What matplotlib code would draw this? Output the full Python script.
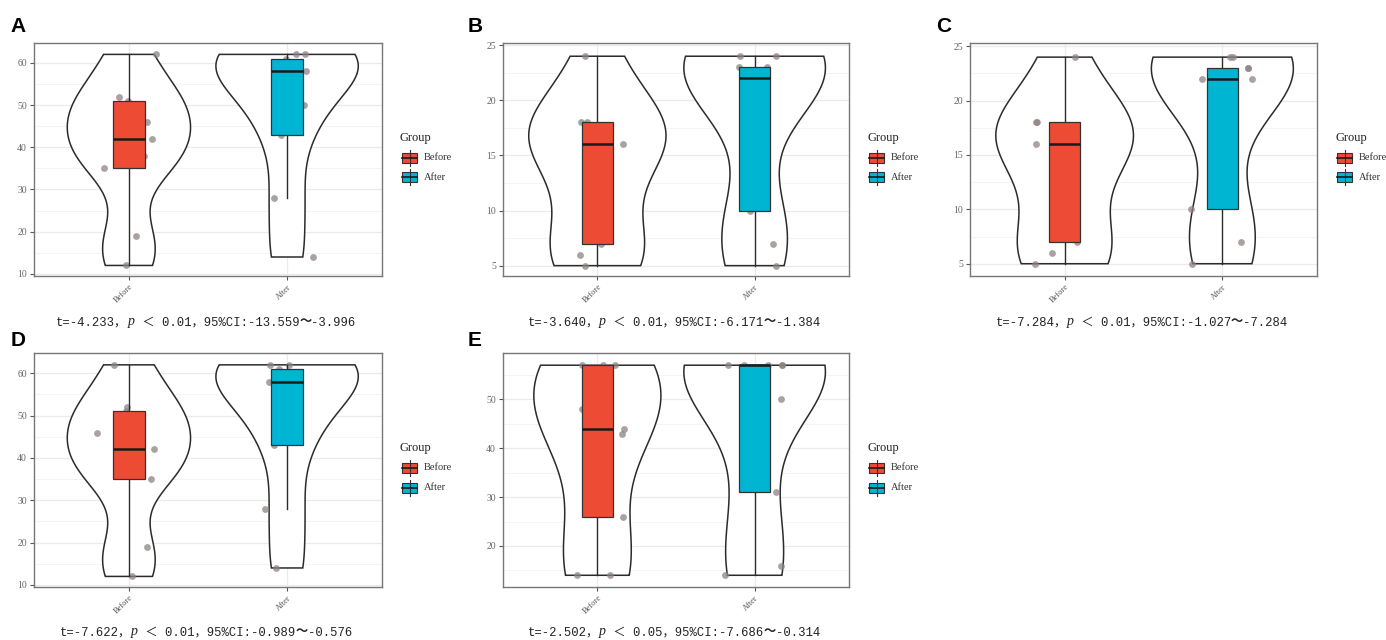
import numpy as np
import matplotlib
matplotlib.use('Agg')
import matplotlib.pyplot as plt
from matplotlib.patches import Rectangle, Polygon
from matplotlib.lines import Line2D
from matplotlib.offsetbox import TextArea, HPacker, AnchoredOffsetbox

W, H = 1386, 640

groups = ['Before', 'After']
colors = ['#EE4B35', '#00B5D1']

a_before = [12, 19, 35, 38, 42, 46, 51, 52, 62]
a_after = [14, 28, 43, 50, 58, 60, 61, 62, 62]
b_before = [5, 6, 7, 13, 16, 17, 18, 18, 24]
b_after = [5, 7, 10, 22, 22, 23, 23, 24, 24]
c_before = [5, 6, 7, 13, 16, 17, 18, 18, 24]
c_after = [5, 7, 10, 22, 22, 23, 23, 24, 24]
d_before = [12, 19, 35, 38, 42, 46, 51, 52, 62]
d_after = [14, 28, 43, 50, 58, 60, 61, 62, 62]
e_before = [14, 14, 26, 43, 44, 48, 57, 57, 57]
e_after = [14, 16, 31, 50, 57, 57, 57, 57, 57]

# horizontal jitter of each point (category units)
a_jit = [[-0.017, 0.046, -0.156, 0.093, 0.148, 0.116, -0.006, -0.063, 0.173],
         [0.165, -0.080, -0.036, 0.108, 0.122, 0.020, -0.005, 0.059, 0.112]]
b_jit = [[-0.078, -0.110, 0.020, -0.040, 0.165, 0.040, -0.105, -0.063, -0.078],
         [0.135, 0.118, -0.030, 0.034, -0.050, -0.097, 0.076, -0.093, 0.135]]
c_jit = [[-0.186, -0.082, 0.080, 0.036, -0.179, -0.050, -0.184, -0.173, 0.068],
         [-0.190, 0.120, -0.196, -0.131, 0.188, 0.165, 0.163, 0.050, 0.065]]
d_jit = [[0.021, 0.116, 0.137, -0.060, 0.160, -0.200, -0.021, -0.011, -0.097],
         [-0.068, -0.141, -0.084, 0.017, -0.114, -0.025, -0.051, -0.105, 0.013]]
e_jit = [[-0.131, 0.080, 0.165, 0.156, 0.169, -0.099, -0.099, 0.038, 0.112],
         [-0.188, 0.167, 0.139, 0.165, -0.171, -0.065, 0.086, 0.171, 0.171]]

a_ticks = [10, 20, 30, 40, 50, 60]
bc_ticks = [5, 10, 15, 20, 25]
e_ticks = [20, 30, 40, 50]

# y limits as shown (ggplot expands the jittered range by 5%)
a_ylim = (9.5, 64.7)
b_ylim = (4.06, 25.2)
c_ylim = (3.87, 25.3)
d_ylim = (9.5, 64.8)
e_ylim = (11.6, 59.5)

captions = [
    ('t=-4.233，', ' ＜ 0.01，95%CI:-13.559', '-3.996'),
    ('t=-3.640，', ' ＜ 0.01，95%CI:-6.171', '-1.384'),
    ('t=-7.284，', ' ＜ 0.01，95%CI:-1.027', '-7.284'),
    ('t=-7.622，', ' ＜ 0.01，95%CI:-0.989', '-0.576'),
    ('t=-2.502，', ' ＜ 0.05，95%CI:-7.686', '-0.314'),
]

SERIF = ['Liberation Serif', 'DejaVu Serif']
CAPFONT = ['Liberation Mono', 'Noto Sans CJK SC', 'DejaVu Sans']


def kde(vals, grid):
    v = np.asarray(vals, float)
    n = len(v)
    q75, q25 = np.percentile(v, [75, 25])
    bw = 0.9 * min(v.std(ddof=1), (q75 - q25) / 1.34) * n ** -0.2
    z = (grid[:, None] - v[None, :]) / bw
    return np.exp(-0.5 * z ** 2).sum(1) / (n * bw * np.sqrt(2 * np.pi))


def box_stats(vals):
    v = np.asarray(vals, float)
    q1, med, q3 = np.percentile(v, [25, 50, 75])
    iqr = q3 - q1
    lo = v[v >= q1 - 1.5 * iqr].min()
    hi = v[v <= q3 + 1.5 * iqr].max()
    return q1, med, q3, lo, hi


def fx(px):
    return px / W


def fy(py):
    return 1 - py / H


fig = plt.figure(figsize=(W / 100, H / 100), dpi=100)
fig.patch.set_facecolor('white')

# panel boxes in pixels: left, top, right, bottom ; letter position
panels = [
    ('A', a_before, a_after, a_jit, a_ticks, a_ylim, (34, 43, 382, 276), (10, 26.5)),
    ('B', b_before, b_after, b_jit, bc_ticks, b_ylim, (503, 43, 849, 276), (468, 26.5)),
    ('C', c_before, c_after, c_jit, bc_ticks, c_ylim, (970, 43, 1317, 276), (936, 26.5)),
    ('D', d_before, d_after, d_jit, a_ticks, d_ylim, (34, 353, 382, 587), (11, 340)),
    ('E', e_before, e_after, e_jit, e_ticks, e_ylim, (503, 353, 849, 587), (468, 340)),
]

for k, (letter, before, after, jit, ticks, ylim, (l, t, r, b), (lx0, ly0)) in enumerate(panels):
    ax = fig.add_axes([fx(l), fy(b), fx(r - l), (b - t) / H])
    data = [before, after]

    dens = []
    for vals in data:
        g = np.linspace(min(vals), max(vals), 512)
        dens.append((g, kde(vals, g)))
    scale = 0.45 / max(d.max() for _, d in dens)

    for i, vals in enumerate(data):
        pos = i + 1
        g, d = dens[i]
        w = d * scale
        xs = np.concatenate([pos - w, (pos + w)[::-1]])
        ys = np.concatenate([g, g[::-1]])
        ax.add_patch(Polygon(np.column_stack([xs, ys]), closed=True, fc='white',
                             ec='#2b2b2b', lw=1.1, zorder=2))
        ax.scatter(pos + np.array(jit[i]), vals, s=24, color='#8e8282', alpha=0.75,
                   lw=0, zorder=3)
        q1, med, q3, wlo, whi = box_stats(vals)
        ax.plot([pos, pos], [q3, whi], color='#2b2b2b', lw=1.0, zorder=4)
        ax.plot([pos, pos], [wlo, q1], color='#2b2b2b', lw=1.0, zorder=4)
        ax.add_patch(Rectangle((pos - 0.1, q1), 0.2, q3 - q1, fc=colors[i],
                               ec='#333333', lw=0.9, zorder=5))
        ax.plot([pos - 0.1, pos + 0.1], [med, med], color='#1a1a1a', lw=1.8,
                zorder=6, solid_capstyle='butt')

    # theme_bw look
    ax.set_yticks(ticks)
    step = ticks[1] - ticks[0]
    minors = [v + step / 2 for v in [ticks[0] - step] + ticks]
    ax.set_yticks(minors, minor=True)
    ax.set_xticks([1, 2])
    ax.set_xticklabels(groups, rotation=45, ha='right', va='top',
                       rotation_mode='anchor', fontsize=6, color='#555555',
                       family=SERIF)
    ax.set_xlim(0.4, 2.6)
    ax.set_ylim(*ylim)
    for lab in ax.get_yticklabels():
        lab.set_fontsize(7)
        lab.set_color('#666666')
        lab.set_family(SERIF)
    ax.grid(True, which='major', color='#ebebeb', lw=0.9, zorder=0)
    ax.grid(True, which='minor', axis='y', color='#f3f3f3', lw=0.6, zorder=0)
    ax.set_axisbelow(True)
    ax.tick_params(which='major', length=3, width=0.8, color='#555555', pad=2)
    ax.tick_params(which='minor', length=0)
    for s in ax.spines.values():
        s.set_color('#777777')
        s.set_linewidth(1.0)

    # panel letter
    fig.text(fx(lx0), fy(ly0), letter, fontsize=15, fontweight='bold',
             family=['Liberation Sans', 'DejaVu Sans'], ha='left', va='center')

    # legend
    lx = r + 18
    ty = t + (b - t) / 2 - 22
    fig.text(fx(lx), fy(ty), 'Group', fontsize=9, family=SERIF,
             ha='left', va='center', color='#222222')
    for i, name in enumerate(groups):
        cy = ty + 20 + i * 19.5
        fig.add_artist(Line2D([fx(lx + 9.5)] * 2, [fy(cy - 8), fy(cy + 8)],
                              color='#333333', lw=0.8))
        fig.add_artist(Rectangle((fx(lx + 2), fy(cy + 5)), 15 / W, 10 / H,
                                 fc=colors[i], ec='#333333', lw=0.8))
        fig.add_artist(Line2D([fx(lx + 2), fx(lx + 17)], [fy(cy)] * 2,
                              color='#1a1a1a', lw=1.2))
        fig.text(fx(lx + 24), fy(cy), name, fontsize=7.5, family=SERIF,
                 ha='left', va='center', color='#333333')

    # caption with italic p and a heavy wave dash
    pre, mid, post = captions[k]
    cprops = dict(family=CAPFONT, fontsize=8.8, color='#222222')
    parts = HPacker(children=[
        TextArea(pre, textprops=cprops),
        TextArea('p', textprops=dict(family=SERIF, style='italic', fontsize=10,
                                     color='#222222')),
        TextArea(mid, textprops=cprops),
        TextArea('〜', textprops=dict(cprops, fontweight='bold')),
        TextArea(post, textprops=cprops),
    ], pad=0, sep=0, align='baseline')
    cap_y = 322 if k < 3 else 632
    anch = AnchoredOffsetbox(loc='center', child=parts, frameon=False, pad=0,
                             bbox_to_anchor=(fx((l + r) / 2 - 2), fy(cap_y)),
                             bbox_transform=fig.transFigure, borderpad=0)
    fig.add_artist(anch)

fig.savefig('out.png', dpi=100, facecolor='white')
